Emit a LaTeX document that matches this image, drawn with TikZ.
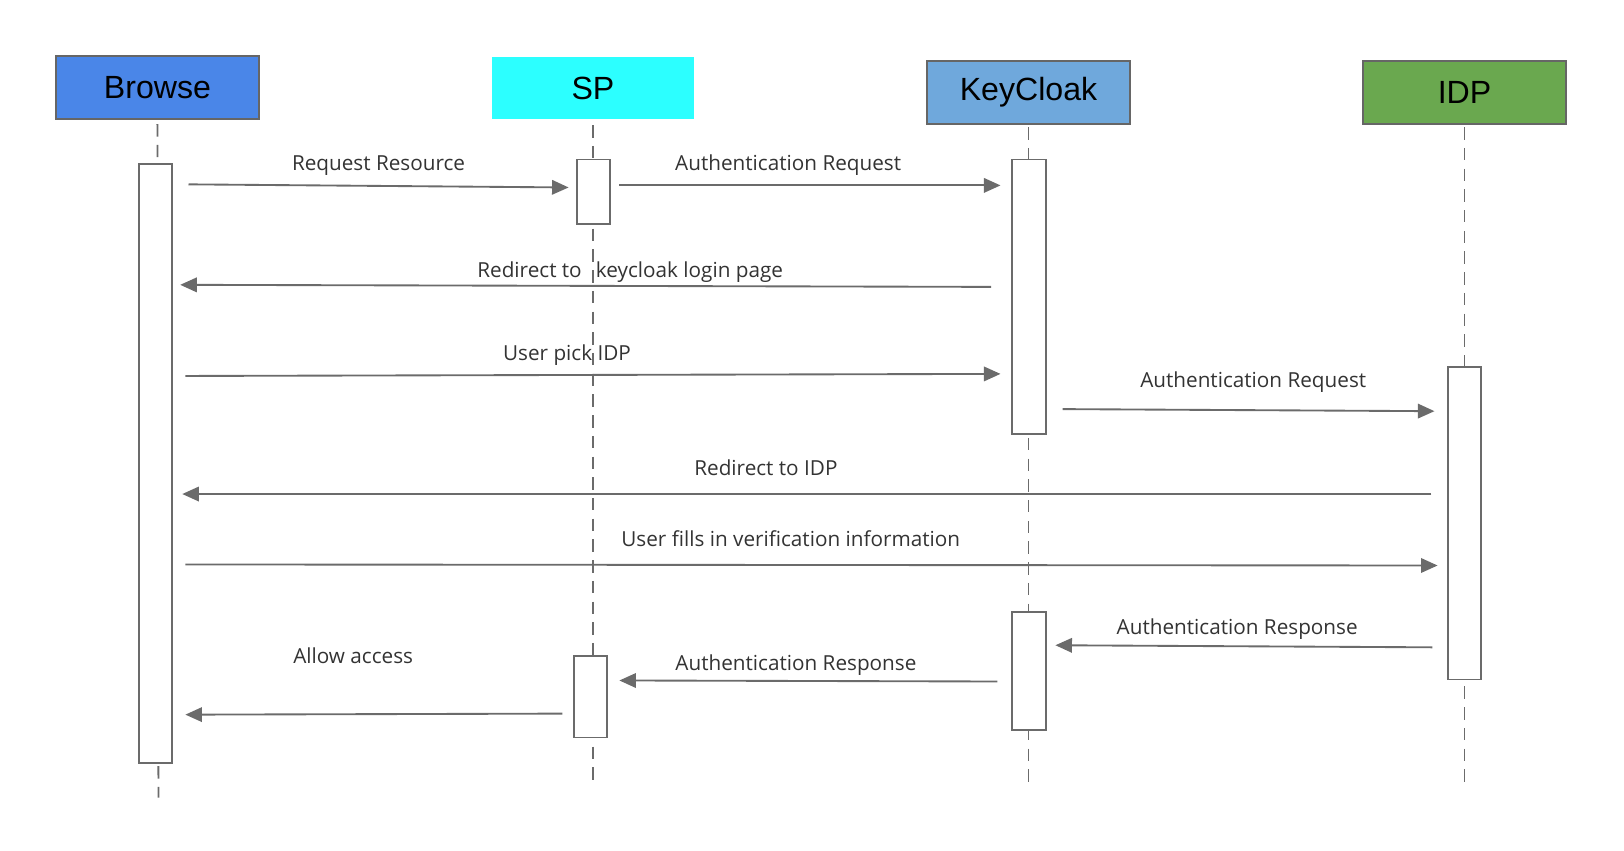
\documentclass[tikz,border=0pt]{standalone}
\usepackage{fontspec}
\setmainfont{Open Sans}
\newfontfamily\headfont{Liberation Sans}
\usetikzlibrary{positioning,arrows.meta}
\definecolor{browseblue}{HTML}{4A86E8}
\definecolor{spcyan}{HTML}{2CFFFF}
\definecolor{kcblue}{HTML}{6FA8DC}
\definecolor{idpgreen}{HTML}{6AA84F}
\definecolor{boxgray}{HTML}{666666}
\definecolor{linegray}{HTML}{6B6B6B}
\tikzset{head/.style={draw=boxgray, line width=1.6pt, minimum width=196pt,
    minimum height=61pt, inner sep=0pt, font=\headfont\fontsize{31}{36}\selectfont},
  life/.style={draw=linegray, line width=1.8pt, dash pattern=on 12pt off 8pt},
  act/.style={draw=linegray, fill=white, line width=1.8pt, minimum width=32pt, inner sep=0pt},
  msg/.style={draw=linegray, line width=1.8pt, -{Triangle[length=16pt,width=14pt]}},
  lbl/.style={anchor=base, inner sep=0pt, text=black!80, font=\fontsize{20}{24}\selectfont}}

\begin{document}
\begin{tikzpicture}[x=1pt,y=-1pt]
\useasboundingbox (0,0) rectangle (1568,821);
\node[head, fill=browseblue] (browse) at (152,84.5) {Browse};
\node[head, fill=spcyan, draw=none, minimum width=195pt, minimum height=60pt] (sp) at (572.5,85) {SP};
\node[head, fill=kcblue] (kc) at (993,89.5) {\raisebox{-2pt}{KeyCloak}};
\node[head, fill=idpgreen] (idp) at (1414,89.5) {\raisebox{-2pt}{IDP}};

\coordinate (browse-end) at (153,770);
\coordinate (sp-end) at (572.5,755);
\coordinate (kc-end) at (993,755);
\coordinate (idp-end) at (1414,755);
\draw[life] ([yshift=-4pt]browse.south) -- (browse-end);
\draw[life] ([yshift=-5pt]sp.south) -- (sp-end);
\draw[life] ([yshift=-2pt]kc.south) -- (kc-end);
\draw[life] ([yshift=-2pt]idp.south) -- (idp-end);

\node[act, minimum height=579pt] (browse-act) at (150,447.5) {};
\node[act, minimum height=62pt] (sp-act1) at (573,185) {};
\node[act, minimum height=265pt] (kc-act1) at (993.5,286.5) {};
\node[act, minimum height=302pt] (idp-act) at (1414,505) {};
\node[act, minimum height=114pt] (kc-act2) at (993.5,648) {};
\node[act, minimum height=79pt] (sp-act2) at (570,672.5) {};

\coordinate (m1a) at (182,178);  \coordinate (m1b) at (549,181);
\coordinate (m2a) at (598,179);  \coordinate (m2b) at (966,179);
\coordinate (m3a) at (957,277);  \coordinate (m3b) at (174,275);
\coordinate (m4a) at (179,363);  \coordinate (m4b) at (966,361);
\coordinate (m5a) at (1026,395); \coordinate (m5b) at (1385,397);
\coordinate (m6a) at (1382,477); \coordinate (m6b) at (176,477);
\coordinate (m7a) at (179,545);  \coordinate (m7b) at (1388,546);
\coordinate (m8a) at (1383,625); \coordinate (m8b) at (1019,623);
\coordinate (m9a) at (963,658);  \coordinate (m9b) at (598,657);
\coordinate (m10a) at (543,689); \coordinate (m10b) at (179,690);
\path (m1a) edge[msg] (m1b);
\path (m2a) edge[msg] (m2b);
\path (m3a) edge[msg] (m3b);
\path (m4a) edge[msg] (m4b);
\path (m5a) edge[msg] (m5b);
\path (m6a) edge[msg] (m6b);
\path (m7a) edge[msg] (m7b);
\path (m8a) edge[msg] (m8b);
\path (m9a) edge[msg] (m9b);
\path (m10a) edge[msg] (m10b);

\node[lbl] (l1) at (365.5,165) {Request Resource};
\node[lbl] (l2) at (761,165) {Authentication Request};
\node[lbl] (l3) at (608.5,268) {Redirect to~~\,keycloak login page};
\node[lbl] (l4) at (547.5,348) {User pick IDP};
\node[lbl] (l5) at (1210,374) {Authentication Request};
\node[lbl] (l6) at (739.5,459) {Redirect to IDP};
\node[lbl] (l7) at (763.5,528) {User fills in verification information};
\node[lbl] (l8) at (1194.5,613) {Authentication Response};
\node[lbl] (l9) at (768.5,647) {Authentication Response};
\node[lbl] (l10) at (341,641) {Allow access};
\end{tikzpicture}
\end{document}
